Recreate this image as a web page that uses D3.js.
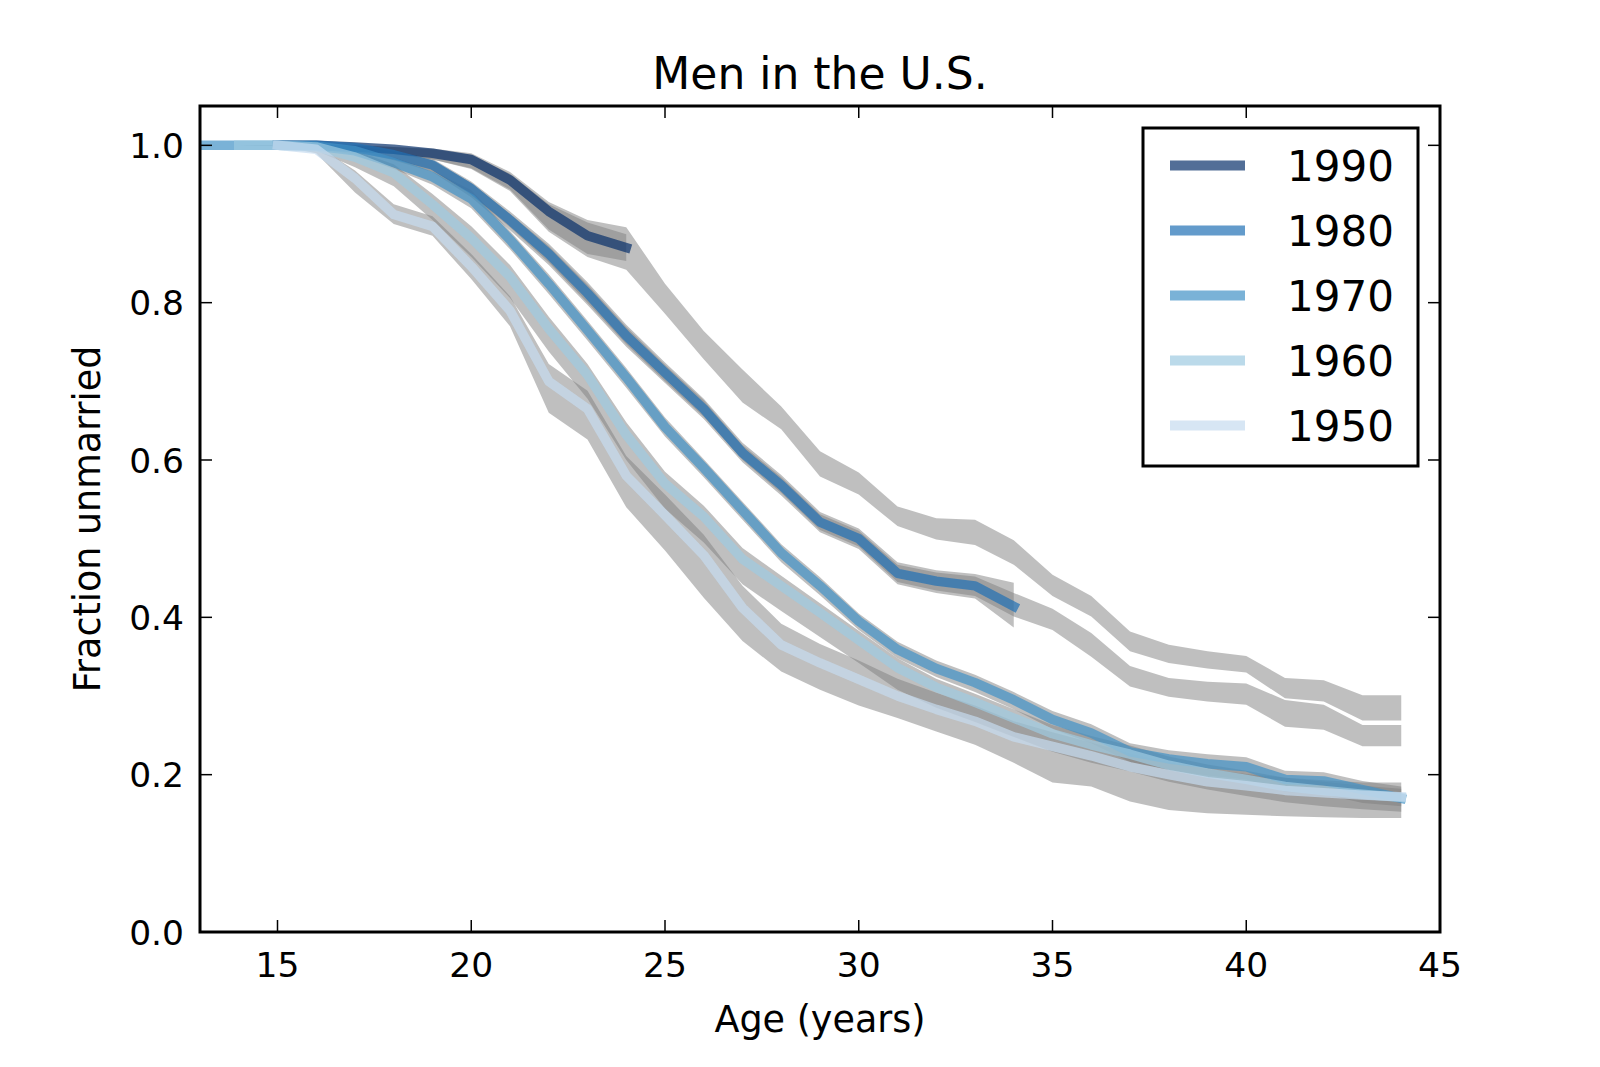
<!DOCTYPE html>
<html>
<head>
<meta charset="utf-8">
<script src="https://cdn.jsdelivr.net/npm/d3@7/dist/d3.min.js"></script>
<style>
  body { margin: 0; background: #fff; }
  text { font-family: "DejaVu Sans", sans-serif; fill: #000; }
</style>
</head>
<body>
<div id="chart"></div>
<script>
// ages 13..44
const ages = [13, 14, 15, 16, 17, 18, 19, 20, 21, 22, 23, 24, 25, 26, 27, 28,
              29, 30, 31, 32, 33, 34, 35, 36, 37, 38, 39, 40, 41, 42, 43, 44];

const cohorts = ["1990", "1980", "1970", "1960", "1950"];
const colors = ["#08306b", "#2171b5", "#4292c6", "#9ecae1", "#c6dbef"];

// fraction unmarried by age, one entry per age above (null = no data)
const line1990 = [null, null, 1.0, 1.0, 0.998, 0.995, 0.990, 0.982, 0.956, 0.916, 0.885, 0.870,
  null, null, null, null, null, null, null, null, null, null,
  null, null, null, null, null, null, null, null, null, null];
const line1980 = [null, null, 1.0, 1.0, 0.997, 0.988, 0.975, 0.945, 0.905, 0.862, 0.812, 0.758,
  0.711, 0.665, 0.609, 0.568, 0.521, 0.500, 0.456, 0.446, 0.440, 0.414,
  null, null, null, null, null, null, null, null, null, null];
const line1970 = [1.0, 1.0, 1.0, 0.999, 0.993, 0.978, 0.960, 0.932, 0.880, 0.824, 0.765, 0.705,
  0.642, 0.590, 0.536, 0.482, 0.440, 0.395, 0.359, 0.335, 0.317, 0.295,
  0.270, 0.253, 0.229, 0.220, 0.214, 0.210, 0.194, 0.192, 0.181, 0.170];
const line1960 = [null, 1.0, 1.0, 0.998, 0.985, 0.965, 0.925, 0.882, 0.833, 0.767, 0.708, 0.632,
  0.570, 0.528, 0.474, 0.440, 0.406, 0.371, 0.336, 0.311, 0.292, 0.272,
  0.252, 0.238, 0.226, 0.212, 0.202, 0.194, 0.185, 0.180, 0.175, 0.171];
const line1950 = [null, null, 1.0, 0.995, 0.958, 0.912, 0.897, 0.846, 0.790, 0.700, 0.665, 0.580,
  0.530, 0.479, 0.412, 0.365, 0.342, 0.321, 0.300, 0.283, 0.268, 0.248,
  0.236, 0.224, 0.210, 0.200, 0.191, 0.186, 0.180, 0.177, 0.174, 0.172];

// gray confidence bands (observed and predicted)
const band1990obsLo = [null, null, 1.0, 0.998, 0.994, 0.989, 0.982, 0.971, 0.944, 0.893, 0.862, 0.853,
  null, null, null, null, null, null, null, null, null, null,
  null, null, null, null, null, null, null, null, null, null];
const band1990obsHi = [null, null, 1.0, 1.0, 1.0, 0.998, 0.995, 0.988, 0.964, 0.925, 0.902, 0.887,
  null, null, null, null, null, null, null, null, null, null,
  null, null, null, null, null, null, null, null, null, null];
const band1990predLo = [null, null, 1.0, 0.998, 0.994, 0.989, 0.982, 0.970, 0.942, 0.890, 0.858, 0.842,
  0.786, 0.728, 0.673, 0.639, 0.579, 0.556, 0.516, 0.499, 0.492, 0.467,
  0.427, 0.401, 0.357, 0.342, 0.335, 0.330, 0.297, 0.293, 0.269, 0.269];
const band1990predHi = [null, null, 1.0, 1.0, 1.0, 0.998, 0.996, 0.990, 0.966, 0.928, 0.905, 0.896,
  0.824, 0.764, 0.715, 0.668, 0.611, 0.584, 0.541, 0.526, 0.524, 0.498,
  0.454, 0.427, 0.382, 0.365, 0.357, 0.351, 0.323, 0.320, 0.301, 0.301];

const band1980obsLo = [null, null, 1.0, 0.998, 0.992, 0.981, 0.966, 0.934, 0.892, 0.848, 0.797, 0.744,
  0.698, 0.652, 0.597, 0.555, 0.508, 0.487, 0.442, 0.431, 0.424, 0.387,
  null, null, null, null, null, null, null, null, null, null];
const band1980obsHi = [null, null, 1.0, 1.0, 0.999, 0.993, 0.983, 0.954, 0.916, 0.875, 0.826, 0.772,
  0.724, 0.678, 0.622, 0.581, 0.534, 0.513, 0.470, 0.460, 0.455, 0.444,
  null, null, null, null, null, null, null, null, null, null];
const band1980predLo = [null, null, 1.0, 0.998, 0.993, 0.983, 0.968, 0.937, 0.896, 0.851, 0.800, 0.747,
  0.700, 0.655, 0.600, 0.558, 0.511, 0.490, 0.445, 0.434, 0.427, 0.401,
  0.384, 0.350, 0.312, 0.299, 0.293, 0.289, 0.261, 0.257, 0.236, 0.236];
const band1980predHi = [null, null, 1.0, 1.0, 0.999, 0.992, 0.981, 0.952, 0.913, 0.872, 0.823, 0.769,
  0.721, 0.676, 0.619, 0.578, 0.531, 0.510, 0.467, 0.457, 0.452, 0.431,
  0.411, 0.380, 0.338, 0.323, 0.318, 0.316, 0.295, 0.289, 0.263, 0.263];

const band1970Lo = [1.0, 1.0, 0.999, 0.996, 0.988, 0.970, 0.950, 0.920, 0.868, 0.811, 0.752, 0.692,
  0.630, 0.578, 0.524, 0.470, 0.428, 0.384, 0.348, 0.324, 0.305, 0.283,
  0.258, 0.240, 0.216, 0.206, 0.199, 0.194, 0.178, 0.175, 0.164, 0.160];
const band1970Hi = [1.0, 1.0, 1.0, 1.0, 0.997, 0.985, 0.968, 0.943, 0.891, 0.836, 0.777, 0.717,
  0.654, 0.601, 0.547, 0.493, 0.451, 0.405, 0.369, 0.345, 0.327, 0.305,
  0.281, 0.264, 0.240, 0.231, 0.226, 0.222, 0.205, 0.203, 0.192, 0.185];

const band1960Lo = [null, 1.0, 0.999, 0.993, 0.972, 0.948, 0.905, 0.858, 0.806, 0.738, 0.678, 0.600,
  0.538, 0.495, 0.442, 0.408, 0.375, 0.342, 0.308, 0.285, 0.267, 0.248,
  0.229, 0.215, 0.204, 0.191, 0.181, 0.173, 0.165, 0.160, 0.156, 0.153];
const band1960Hi = [null, 1.0, 1.0, 1.0, 0.993, 0.976, 0.938, 0.897, 0.848, 0.782, 0.722, 0.648,
  0.585, 0.542, 0.488, 0.453, 0.418, 0.383, 0.348, 0.322, 0.303, 0.283,
  0.263, 0.249, 0.237, 0.223, 0.213, 0.205, 0.196, 0.191, 0.186, 0.182];

const band1950Lo = [null, null, 1.0, 0.990, 0.940, 0.900, 0.885, 0.830, 0.770, 0.660, 0.626, 0.540,
  0.485, 0.425, 0.370, 0.331, 0.308, 0.288, 0.272, 0.255, 0.238, 0.215,
  0.190, 0.185, 0.166, 0.155, 0.151, 0.149, 0.147, 0.146, 0.145, 0.145];
const band1950Hi = [null, null, 1.0, 1.0, 0.968, 0.925, 0.910, 0.862, 0.808, 0.722, 0.688, 0.605,
  0.556, 0.505, 0.440, 0.392, 0.366, 0.345, 0.322, 0.304, 0.288, 0.268,
  0.254, 0.241, 0.227, 0.216, 0.207, 0.201, 0.196, 0.193, 0.190, 0.190];

const xTicks = [15, 20, 25, 30, 35, 40, 45];
const yTicks = [0.0, 0.2, 0.4, 0.6, 0.8, 1.0];

const width = 1600, height = 1067;
const margin = { top: 106, right: 160, bottom: 135, left: 200 };

const svg = d3.select("#chart").append("svg")
  .attr("width", width)
  .attr("height", height)
  .style("background", "#fff");

const x = d3.scaleLinear().domain([13, 45]).range([margin.left, width - margin.right]);
const y = d3.scaleLinear().domain([0, 1.05]).range([height - margin.bottom, margin.top]);

const bands = [
  [band1990predLo, band1990predHi],
  [band1990obsLo, band1990obsHi],
  [band1980predLo, band1980predHi],
  [band1980obsLo, band1980obsHi],
  [band1970Lo, band1970Hi],
  [band1960Lo, band1960Hi],
  [band1950Lo, band1950Hi]
];
const lines = [line1990, line1980, line1970, line1960, line1950];

svg.append("defs").append("clipPath").attr("id", "plot-clip")
  .append("rect")
  .attr("x", x(13)).attr("y", y(1.05))
  .attr("width", x(45) - x(13)).attr("height", y(0) - y(1.05));

const plot = svg.append("g").attr("clip-path", "url(#plot-clip)");

const area = d3.area()
  .defined(d => d.lo != null)
  .x(d => x(d.age))
  .y0(d => y(d.lo))
  .y1(d => y(d.hi));

bands.forEach(([lo, hi]) => {
  const pts = ages.map((a, i) => ({ age: a, lo: lo[i], hi: hi[i] }));
  plot.append("path")
    .datum(pts)
    .attr("d", area)
    .attr("fill", "#808080")
    .attr("fill-opacity", 0.5)
    .attr("stroke", "none");
});

const line = d3.line()
  .defined(d => d.v != null)
  .x(d => x(d.age))
  .y(d => y(d.v));

lines.forEach((vals, k) => {
  const pts = ages.map((a, i) => ({ age: a, v: vals[i] }));
  plot.append("path")
    .datum(pts)
    .attr("d", line)
    .attr("fill", "none")
    .attr("stroke", colors[k])
    .attr("stroke-opacity", 0.7)
    .attr("stroke-width", 9.5)
    .attr("stroke-linecap", "square")
    .attr("stroke-linejoin", "round");
});

// frame
svg.append("rect")
  .attr("x", x(13)).attr("y", y(1.05))
  .attr("width", x(45) - x(13)).attr("height", y(0) - y(1.05))
  .attr("fill", "none")
  .attr("stroke", "#000")
  .attr("stroke-width", 3);

// inward ticks on all four sides
const tickLen = 12;
xTicks.forEach(t => {
  svg.append("line").attr("x1", x(t)).attr("x2", x(t))
    .attr("y1", y(0)).attr("y2", y(0) - tickLen)
    .attr("stroke", "#000").attr("stroke-width", 1.5);
  svg.append("line").attr("x1", x(t)).attr("x2", x(t))
    .attr("y1", y(1.05)).attr("y2", y(1.05) + tickLen)
    .attr("stroke", "#000").attr("stroke-width", 1.5);
  svg.append("text")
    .attr("x", x(t)).attr("y", y(0) + 45)
    .attr("text-anchor", "middle")
    .style("font-size", "34.5px")
    .text(t);
});
yTicks.forEach(t => {
  svg.append("line").attr("x1", x(13)).attr("x2", x(13) + tickLen)
    .attr("y1", y(t)).attr("y2", y(t))
    .attr("stroke", "#000").attr("stroke-width", 1.5);
  svg.append("line").attr("x1", x(45)).attr("x2", x(45) - tickLen)
    .attr("y1", y(t)).attr("y2", y(t))
    .attr("stroke", "#000").attr("stroke-width", 1.5);
  svg.append("text")
    .attr("x", x(13) - 16).attr("y", y(t) + 12.5)
    .attr("text-anchor", "end")
    .style("font-size", "34.5px")
    .text(t.toFixed(1));
});

// title and axis labels
svg.append("text")
  .attr("x", (x(13) + x(45)) / 2).attr("y", 89)
  .attr("text-anchor", "middle")
  .style("font-size", "44px")
  .text("Men in the U.S.");

svg.append("text")
  .attr("x", (x(13) + x(45)) / 2).attr("y", 1032)
  .attr("text-anchor", "middle")
  .style("font-size", "36.5px")
  .text("Age (years)");

svg.append("text")
  .attr("transform", `translate(100, ${(y(0) + y(1.05)) / 2}) rotate(-90)`)
  .attr("text-anchor", "middle")
  .style("font-size", "36.5px")
  .text("Fraction unmarried");

// legend
const legend = svg.append("g");
legend.append("rect")
  .attr("x", 1143).attr("y", 128)
  .attr("width", 275).attr("height", 338)
  .attr("fill", "#fff")
  .attr("stroke", "#000")
  .attr("stroke-width", 3);

cohorts.forEach((c, k) => {
  const cy = 165.5 + k * 65;
  legend.append("line")
    .attr("x1", 1175).attr("x2", 1240)
    .attr("y1", cy).attr("y2", cy)
    .attr("stroke", colors[k])
    .attr("stroke-opacity", 0.7)
    .attr("stroke-width", 10)
    .attr("stroke-linecap", "square");
  legend.append("text")
    .attr("x", 1287).attr("y", cy + 15.5)
    .style("font-size", "42px")
    .text(c);
});
</script>
</body>
</html>
